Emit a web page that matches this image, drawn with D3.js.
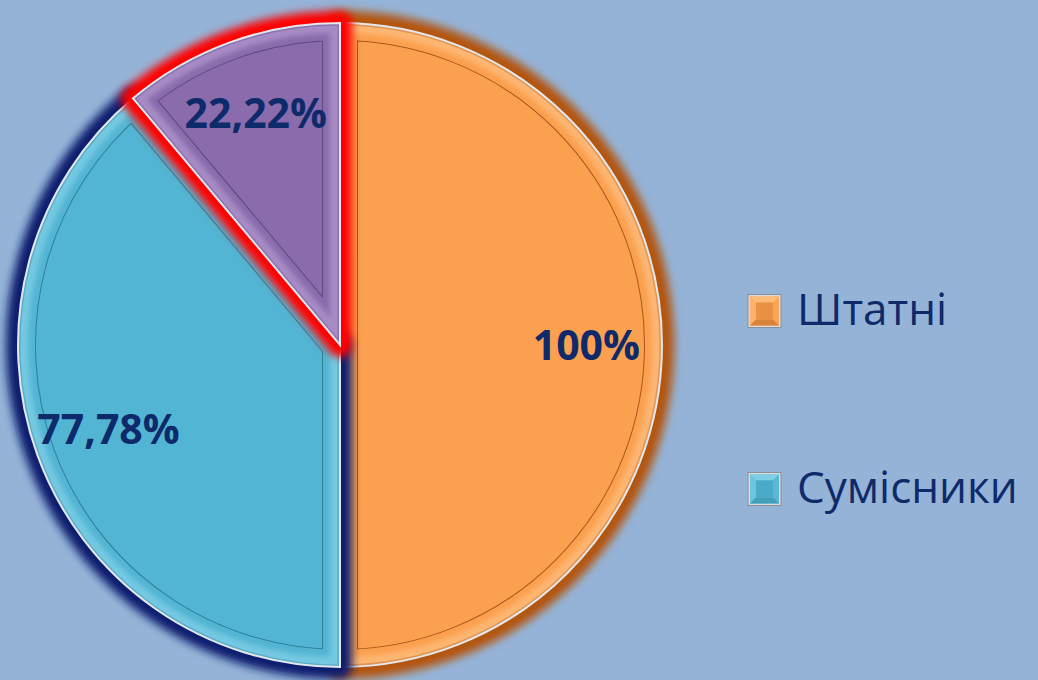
<!DOCTYPE html>
<html>
<head>
<meta charset="utf-8">
<script src="https://cdn.jsdelivr.net/npm/d3@7"></script>
<style>
  body { margin: 0; background: #95B3D7; }
  svg { display: block; }
</style>
</head>
<body>
<div id="chart"></div>
<script>
/* DATA */
// slice values (share of each group), in drawing order
var sliceValues = [100, 77.78, 22.22];
var sliceLabels = ["100%", "77,78%", "22,22%"];
var legendLabels = ["Штатні", "Сумісники"];

/* LAYOUT */
var width = 1038, height = 680;
var cx = 340, cy = 345, radius = 322;

var fills  = ["#FBA04F", "#52B5D3", "#8A6CAC"];
var bevels = ["#FFC58A", "#8CD6EB", "#B9A0D6"];
var lines  = ["#A8581A", "#2E7F96", "#5E4880"];
var glows  = ["#B4540A", "#0B1F6E", "#FF0000"];

var svg = d3.select("#chart").append("svg")
  .attr("width", width)
  .attr("height", height);

svg.append("rect")
  .attr("width", width)
  .attr("height", height)
  .attr("fill", "#95B3D7");

var defs = svg.append("defs");

// blur for the glow behind each slice
defs.append("filter")
  .attr("id", "glow")
  .attr("x", "-20%").attr("y", "-20%")
  .attr("width", "140%").attr("height", "140%")
  .append("feGaussianBlur")
  .attr("stdDeviation", 4);

var soft = defs.append("filter")
  .attr("id", "soft")
  .append("feGaussianBlur")
  .attr("stdDeviation", 2.5);

var pie = d3.pie()
  .sort(null)
  .value(function(d) { return d; });

var arcs = pie(sliceValues);

var arc = d3.arc()
  .innerRadius(0)
  .outerRadius(radius);

var labelArc = d3.arc()
  .innerRadius(radius * 0.765)
  .outerRadius(radius * 0.765);

var pieG = svg.append("g")
  .attr("transform", "translate(" + cx + "," + cy + ")");

arcs.forEach(function(d, i) {
  defs.append("clipPath")
    .attr("id", "clip" + i)
    .append("path")
    .attr("d", arc(d));

  var g = pieG.append("g");

  // glow
  g.append("path")
    .attr("d", arc(d))
    .attr("fill", glows[i])
    .attr("stroke", glows[i])
    .attr("stroke-width", 24)
    .attr("stroke-linejoin", "round")
    .attr("filter", "url(#glow)");

  // slice body
  g.append("path")
    .attr("d", arc(d))
    .attr("fill", fills[i]);

  var inside = g.append("g")
    .attr("clip-path", "url(#clip" + i + ")");

  // thin inner line, 17px inside the edge
  inside.append("path")
    .attr("d", arc(d))
    .attr("fill", "none")
    .attr("stroke", lines[i])
    .attr("stroke-width", 36)
    .attr("stroke-linejoin", "miter");

  inside.append("path")
    .attr("d", arc(d))
    .attr("fill", "none")
    .attr("stroke", fills[i])
    .attr("stroke-width", 34)
    .attr("stroke-linejoin", "miter");

  // bevel band along the edges
  inside.append("path")
    .attr("d", arc(d))
    .attr("fill", "none")
    .attr("stroke", bevels[i])
    .attr("stroke-width", 20)
    .attr("opacity", 0.6)
    .attr("filter", "url(#soft)");

  inside.append("path")
    .attr("d", arc(d))
    .attr("fill", "none")
    .attr("stroke", lines[i])
    .attr("stroke-width", 5)
    .attr("opacity", 0.35);

  // light outline
  g.append("path")
    .attr("d", arc(d))
    .attr("fill", "none")
    .attr("stroke", "#E4E8EE")
    .attr("stroke-width", 2);
});

// data labels
pieG.selectAll(".label")
  .data(arcs)
  .enter().append("text")
  .attr("class", "label")
  .attr("transform", function(d) { return "translate(" + labelArc.centroid(d) + ")"; })
  .attr("text-anchor", "middle")
  .attr("dy", "0.36em")
  .style("font-family", "'Open Sans', sans-serif")
  .style("font-weight", "bold")
  .style("font-size", "41px")
  .style("fill", "#0E2A6A")
  .text(function(d, i) { return sliceLabels[i]; });

// legend
var legend = svg.append("g")
  .attr("transform", "translate(748,0)");

var legendY = d3.scalePoint()
  .domain(legendLabels)
  .range([311, 489]);

var item = legend.selectAll(".item")
  .data(legendLabels)
  .enter().append("g")
  .attr("class", "item")
  .attr("transform", function(d) { return "translate(0," + legendY(d) + ")"; });

var s = 33, b = 8;

item.append("rect")
  .attr("x", 0)
  .attr("y", -s / 2)
  .attr("width", s)
  .attr("height", s)
  .attr("fill", "#D8DCE0")
  .attr("stroke", "#8C8F94")
  .attr("stroke-width", 1);

// bevelled key: top, left, right, bottom faces
var faces = [
  [[2, 2], [s - 2, 2], [s - b, b], [b, b]],
  [[2, 2], [b, b], [b, s - b], [2, s - 2]],
  [[s - 2, 2], [s - 2, s - 2], [s - b, s - b], [s - b, b]],
  [[2, s - 2], [b, s - b], [s - b, s - b], [s - 2, s - 2]]
];
var faceShade = [0.75, 0.45, 0.1, -0.1];

item.each(function(d, i) {
  var key = d3.select(this).append("g")
    .attr("transform", "translate(0," + (-s / 2) + ")");
  key.append("rect")
    .attr("x", 2).attr("y", 2)
    .attr("width", s - 4).attr("height", s - 4)
    .attr("fill", fills[i]);
  faces.forEach(function(f, k) {
    var c = faceShade[k] >= 0
      ? d3.interpolateRgb(fills[i], bevels[i])(faceShade[k])
      : d3.interpolateRgb(fills[i], lines[i])(-faceShade[k] * 4);
    key.append("path")
      .attr("d", "M" + f.join("L") + "Z")
      .attr("fill", c);
  });
  key.append("rect")
    .attr("x", b).attr("y", b)
    .attr("width", s - 2 * b).attr("height", s - 2 * b)
    .attr("fill", d3.interpolateRgb(fills[i], lines[i])(0.2));
});

item.append("text")
  .attr("x", 49)
  .attr("y", 14)
  .style("font-family", "'Open Sans', sans-serif")
  .style("font-size", "44px")
  .style("fill", "#0E2A6A")
  .text(function(d) { return d; });
</script>
</body>
</html>
